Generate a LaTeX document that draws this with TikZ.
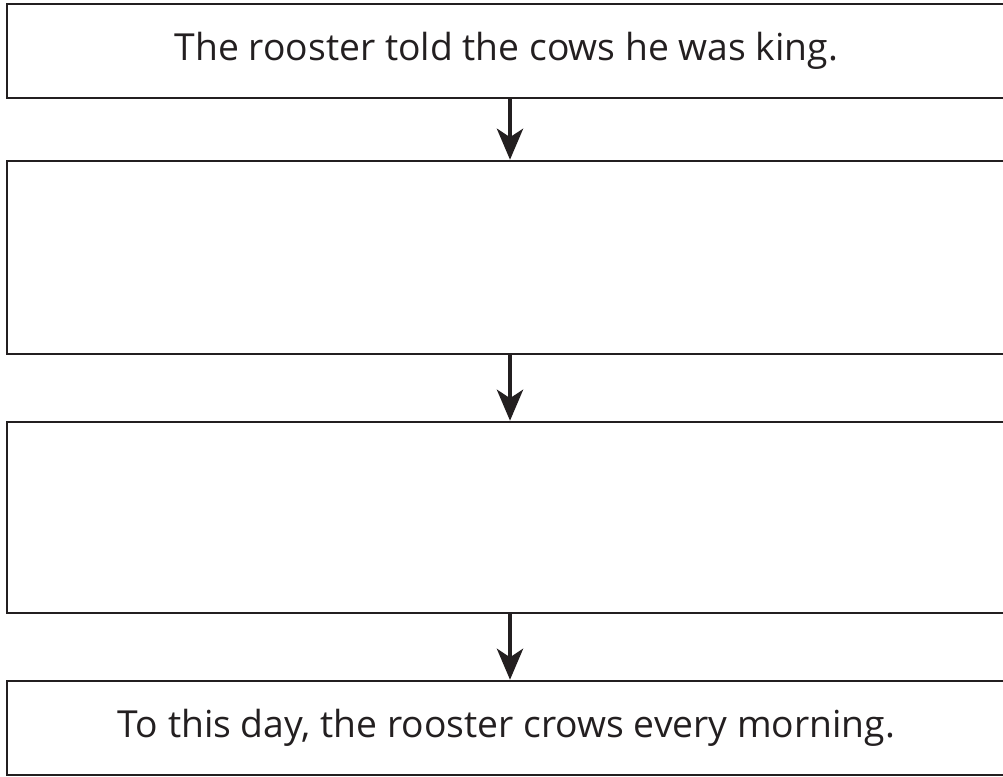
\documentclass[tikz,border=0pt]{standalone}
\usepackage{fontspec}
\setmainfont{Open Sans}
\usepackage{tikz}
\usetikzlibrary{arrows.meta, positioning}
\definecolor{ink}{HTML}{231F20}
\tikzset{
    storybox/.style={
        draw=ink,
        line width=1.75pt,
        rectangle,
        minimum width=24.96cm,
        text=ink,
        font=\fontsize{26.5}{32}\selectfont
    },
    flowarrow/.style={
        draw=ink,
        line width=3.4pt,
        -{Stealth[length=22pt, width=18.5pt, inset=6pt]}
    }
}

\begin{document}
\begin{tikzpicture}[x=0.025cm, y=-0.025cm]
	\useasboundingbox (0,0) rectangle (1003,776);
	\node[storybox, minimum height=2.35cm] at (506.5,51) (r1) {The rooster told the cows he was king.};
	\node[storybox, minimum height=4.825cm] at (506.5,257.5) (r2) {};
	\node[storybox, minimum height=4.775cm] at (506.5,517.5) (r3) {};
	\node[storybox, minimum height=2.35cm] at (506.5,728) (r4) {To this day, the rooster crows every morning.};
	\draw[flowarrow] (r1.south -| 510,0) -- (r2.north -| 510,0);
	\draw[flowarrow] (r2.south -| 510,0) -- (r3.north -| 510,0);
	\draw[flowarrow] (r3.south -| 510,0) -- (r4.north -| 510,0);
\end{tikzpicture}
\end{document}
